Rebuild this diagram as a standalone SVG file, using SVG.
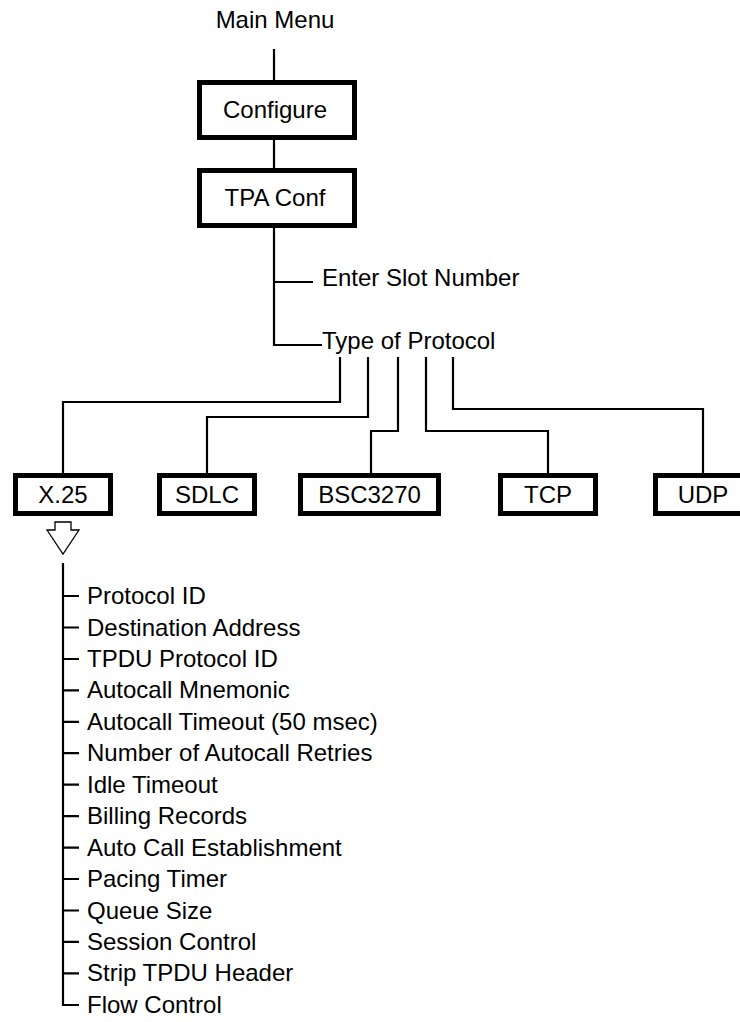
<svg xmlns="http://www.w3.org/2000/svg" width="740" height="1022" viewBox="0 0 740 1022">
  <style>
    text { font-family: "Liberation Sans", Arial, Helvetica, sans-serif; font-size: 24px; fill: #000; }
    .mid { text-anchor: middle; }
    .box { fill: #fff; stroke: #000; stroke-width: 5; }
    .wire { fill: none; stroke: #000; stroke-width: 2.2; }
    .hollow { fill: #fff; stroke: #000; stroke-width: 1.3; stroke-linejoin: miter; }
  </style>
  <rect width="740" height="1022" fill="#fff"/>

  <!-- connectors -->
  <g id="connectors" class="wire">
    <path d="M274 49 V80"/>
    <path d="M274 140 V168"/>
    <path d="M274 228 V345 H322"/>
    <path d="M274 282 H313"/>
    <path d="M340 357 V402 H63 V473"/>
    <path d="M368 357 V417 H207 V473"/>
    <path d="M398 357 V431 H371 V473"/>
    <path d="M426 357 V431 H548 V473"/>
    <path d="M453 357 V409 H703 V473"/>
    <!-- parameter list trunk and ticks -->
    <path d="M63 563 V1005 H79"/>
    <path d="M63 596 H79 M63 627.5 H79 M63 659 H79 M63 690.3 H79 M63 721.8 H79 M63 753.2 H79 M63 784.7 H79 M63 816.1 H79 M63 847.6 H79 M63 879 H79 M63 910.5 H79 M63 941.9 H79 M63 973.4 H79"/>
  </g>

  <!-- hollow down arrow under X.25 -->
  <polygon class="hollow" points="55,522 71,522 71,530 79,530 63,554 47,530 55,530"/>

  <g id="main-menu">
    <text class="mid" x="275" y="28">Main Menu</text>
  </g>

  <g id="configure">
    <rect class="box" x="199.5" y="82.5" width="155" height="55"/>
    <text class="mid" x="275" y="118">Configure</text>
  </g>

  <g id="tpa-conf">
    <rect class="box" x="199.5" y="170.5" width="155" height="55"/>
    <text class="mid" x="275" y="206">TPA Conf</text>
  </g>

  <g id="enter-slot-number">
    <text x="322" y="286">Enter Slot Number</text>
  </g>

  <g id="type-of-protocol">
    <text x="322" y="348.5">Type of Protocol</text>
  </g>

  <g id="x25">
    <rect class="box" x="15.5" y="475.5" width="95" height="38"/>
    <text class="mid" x="63" y="503">X.25</text>
  </g>

  <g id="sdlc">
    <rect class="box" x="159.5" y="475.5" width="95" height="38"/>
    <text class="mid" x="207" y="503">SDLC</text>
  </g>

  <g id="bsc3270">
    <rect class="box" x="300.5" y="475.5" width="138" height="38"/>
    <text class="mid" x="369.5" y="503">BSC3270</text>
  </g>

  <g id="tcp">
    <rect class="box" x="500.5" y="475.5" width="95" height="38"/>
    <text class="mid" x="548" y="503">TCP</text>
  </g>

  <g id="udp">
    <rect class="box" x="655.5" y="475.5" width="95" height="38"/>
    <text class="mid" x="703" y="503">UDP</text>
  </g>

  <g id="x25-parameters">
    <text x="87" y="604">Protocol ID</text>
    <text x="87" y="635.5">Destination Address</text>
    <text x="87" y="667">TPDU Protocol ID</text>
    <text x="87" y="698.3">Autocall Mnemonic</text>
    <text x="87" y="729.8">Autocall Timeout (50 msec)</text>
    <text x="87" y="761.2">Number of Autocall Retries</text>
    <text x="87" y="792.7">Idle Timeout</text>
    <text x="87" y="824.1">Billing Records</text>
    <text x="87" y="855.6">Auto Call Establishment</text>
    <text x="87" y="887">Pacing Timer</text>
    <text x="87" y="918.5">Queue Size</text>
    <text x="87" y="949.9">Session Control</text>
    <text x="87" y="981.4">Strip TPDU Header</text>
    <text x="87" y="1012.8">Flow Control</text>
  </g>
</svg>
